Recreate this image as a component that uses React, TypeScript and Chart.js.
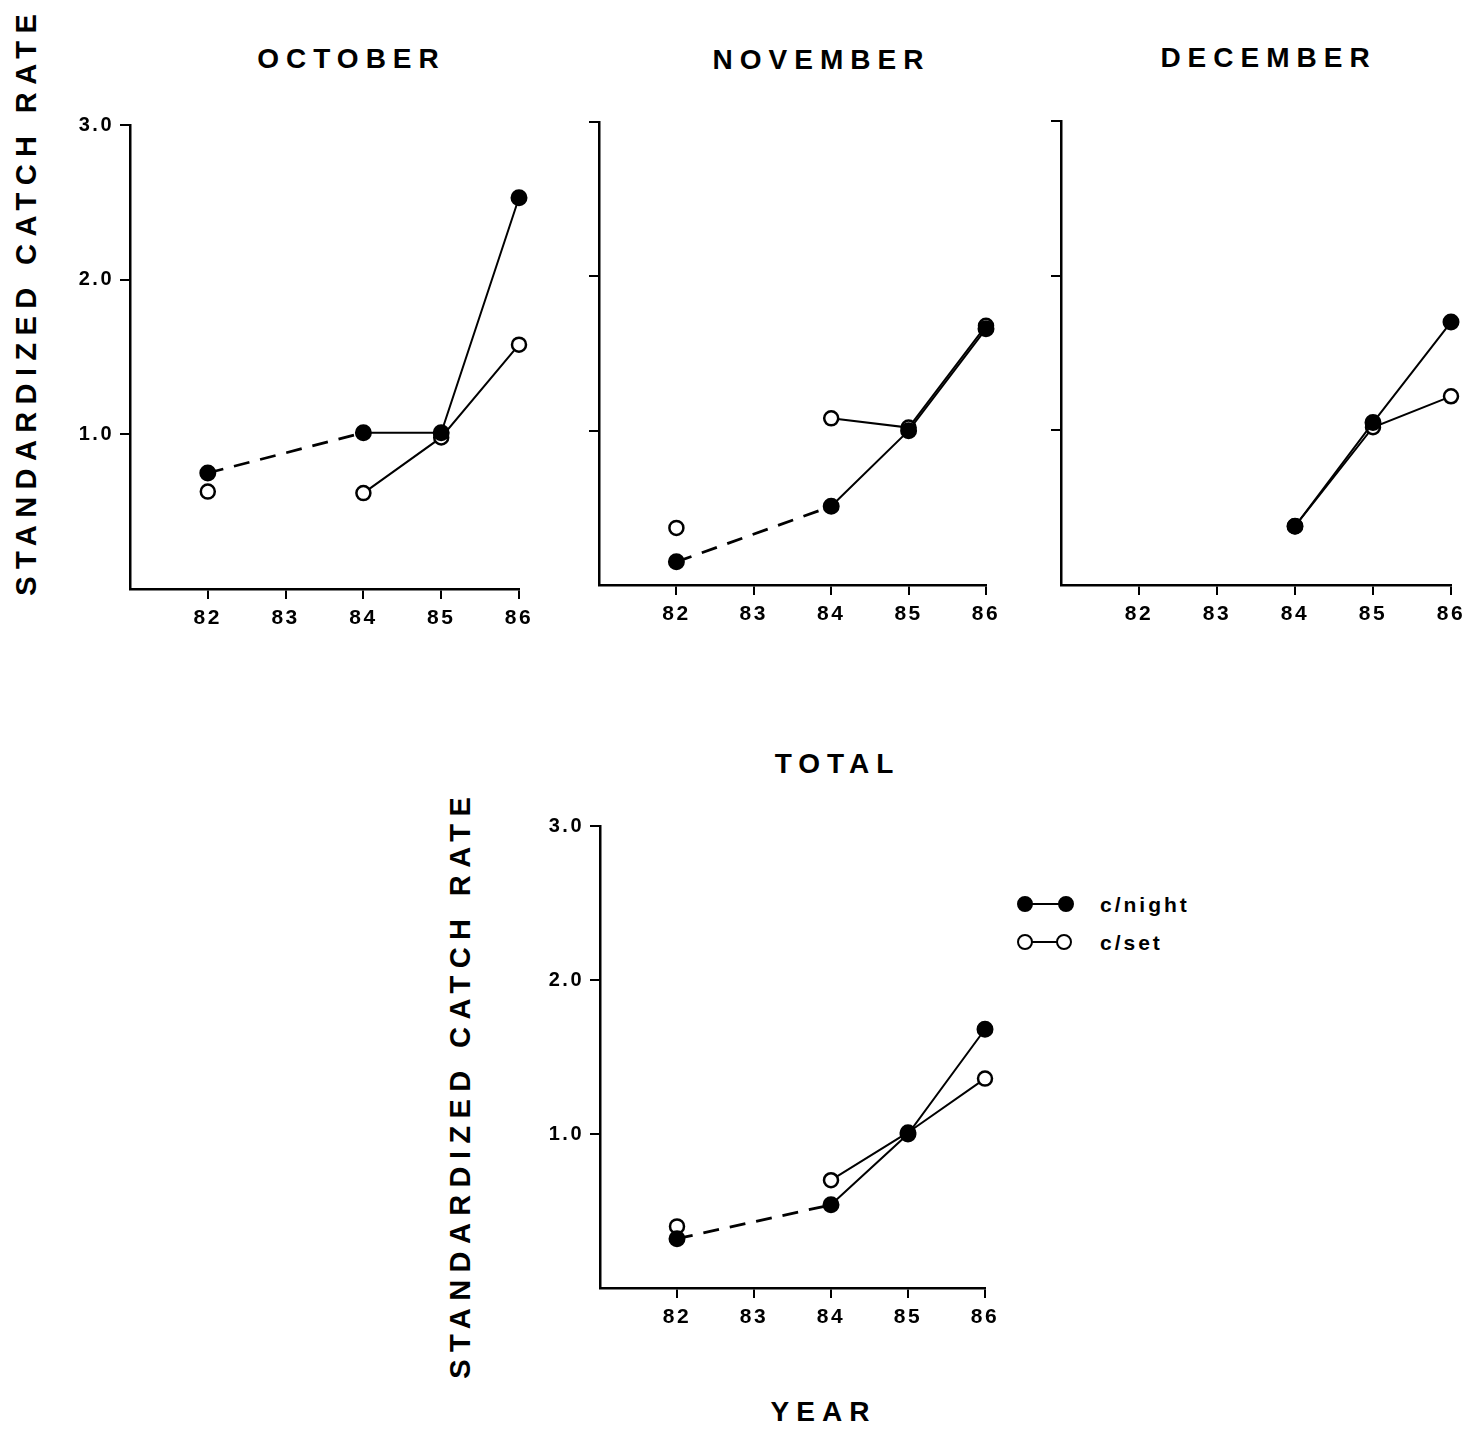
import React, { useEffect, useRef } from 'react';
import { Chart, registerables } from 'chart.js';

Chart.register(...registerables);

const FONT = '"Liberation Sans", Arial, Helvetica, sans-serif';

// ---- data ----
const YEARS = [82, 83, 84, 85, 86];
const X_TICKS = [82, 83, 84, 85, 86];
const Y_TICKS = [1, 2, 3];

const OCT_NIGHT = [0.75, null, 1.01, 1.01, 2.53];
const OCT_SET = [0.63, null, 0.62, 0.98, 1.58];
const NOV_NIGHT = [0.15, null, 0.51, 1.0, 1.66];
const NOV_SET = [0.37, null, 1.08, 1.02, 1.68];
const DEC_NIGHT = [null, null, 0.38, 1.05, 1.7];
const DEC_SET = [null, null, 0.38, 1.02, 1.22];
const TOT_NIGHT = [0.32, null, 0.54, 1.0, 1.68];
const TOT_SET = [0.4, null, 0.7, 1.01, 1.36];

const MONTH_TITLES = ['OCTOBER', 'NOVEMBER', 'DECEMBER'];
const TOTAL_TITLE = 'TOTAL';
const Y_TITLE = 'STANDARDIZED CATCH RATE';
const X_TITLE = 'YEAR';
const LEGEND_LABELS = ['c/night', 'c/set'];

// ---- layout (plot-area boxes in page pixels) ----
const Y_W = 70;
const X_H = 55;
const PAD_T = 20;
const PAD_R = 25;
const PAD_B = 5;

type Box = { L: number; T: number; R: number; B: number };

const spacingPlugin = {
  id: 'letterSpacingPlugin',
  beforeDraw(chart: any) {
    chart.ctx.letterSpacing = '2.5px';
  },
};

function toPoints(vals: (number | null)[]) {
  return YEARS.map((x, i) => ({ x, y: vals[i] }));
}

// a segment touching a missing year is the bridged (dashed) part
function isBridge(ctx: any): boolean {
  return !!(ctx.p0 && ctx.p0.skip) || !!(ctx.p1 && ctx.p1.skip);
}

function Panel({ night, set, showY, box }: { night: (number | null)[]; set: (number | null)[]; showY: boolean; box: Box }) {
  const ref = useRef<HTMLCanvasElement | null>(null);
  const width = Y_W + (box.R - box.L) + PAD_R;
  const height = PAD_T + (box.B - box.T) + X_H + PAD_B;

  useEffect(() => {
    if (!ref.current) return;
    const chart = new Chart(ref.current, {
      type: 'line',
      data: {
        datasets: [
          {
            label: LEGEND_LABELS[0],
            data: toPoints(night) as any,
            borderColor: '#000',
            backgroundColor: '#000',
            borderWidth: 2,
            pointRadius: 7.5,
            pointBorderWidth: 2,
            pointBackgroundColor: '#000',
            pointBorderColor: '#000',
            spanGaps: true,
            clip: false as any,
            segment: {
              borderDash: (ctx: any) => (isBridge(ctx) ? [16, 11] : undefined),
              borderWidth: (ctx: any) => (isBridge(ctx) ? 2.8 : 2),
            },
          },
          {
            label: LEGEND_LABELS[1],
            data: toPoints(set) as any,
            borderColor: '#000',
            backgroundColor: '#fff',
            borderWidth: 2,
            pointRadius: 7,
            pointBorderWidth: 2.5,
            pointBackgroundColor: '#fff',
            pointBorderColor: '#000',
            spanGaps: false,
            clip: false as any,
          },
        ],
      },
      options: {
        responsive: false,
        animation: false,
        devicePixelRatio: 1,
        layout: { padding: { left: 0, top: PAD_T, right: PAD_R, bottom: PAD_B } },
        plugins: { legend: { display: false }, tooltip: { enabled: false }, title: { display: false } },
        scales: {
          x: {
            type: 'linear',
            min: 81,
            max: 86,
            afterBuildTicks: (scale: any) => {
              scale.ticks = X_TICKS.map((v) => ({ value: v }));
            },
            afterFit: (scale: any) => {
              scale.height = X_H;
            },
            ticks: {
              autoSkip: false,
              maxRotation: 0,
              padding: 7,
              color: '#000',
              font: { family: FONT, size: 21, weight: 'bold' },
              callback: (v: any) => String(v),
            },
            grid: { display: true, drawOnChartArea: false, drawTicks: true, tickLength: 10, color: '#000', lineWidth: 2 },
            border: { display: true, color: '#000', width: 2.5 },
          },
          y: {
            type: 'linear',
            min: 0,
            max: 3,
            afterBuildTicks: (scale: any) => {
              scale.ticks = Y_TICKS.map((v) => ({ value: v }));
            },
            afterFit: (scale: any) => {
              scale.width = Y_W;
            },
            ticks: {
              padding: 6,
              color: '#000',
              font: { family: FONT, size: 20, weight: 'bold' },
              callback: (v: any) => (showY ? Number(v).toFixed(1) : ''),
            },
            grid: { display: true, drawOnChartArea: false, drawTicks: true, tickLength: 10, color: '#000', lineWidth: 2 },
            border: { display: true, color: '#000', width: 2.5 },
          },
        },
      } as any,
      plugins: [spacingPlugin],
    });
    return () => chart.destroy();
  }, []);

  return (
    <canvas
      ref={ref}
      width={width}
      height={height}
      style={{ position: 'absolute', left: box.L - Y_W, top: box.T - PAD_T, width, height }}
    />
  );
}

const titleStyle = (cx: number, cy: number, size = 28, spacing = 7): React.CSSProperties => ({
  position: 'absolute',
  left: cx,
  top: cy,
  transform: 'translate(-50%, -50%)',
  fontFamily: FONT,
  fontWeight: 'bold',
  fontSize: size,
  letterSpacing: spacing,
  paddingLeft: spacing,
  lineHeight: 1,
  whiteSpace: 'nowrap',
  color: '#000',
});

const yTitleStyle = (cx: number, cy: number): React.CSSProperties => ({
  position: 'absolute',
  left: cx,
  top: cy,
  transform: 'translate(-50%, -50%) rotate(-90deg)',
  fontFamily: FONT,
  fontWeight: 'bold',
  fontSize: 29,
  letterSpacing: 7.4,
  paddingLeft: 7.4,
  lineHeight: 1,
  whiteSpace: 'nowrap',
  color: '#000',
});

function LegendRow({ y, filled, label }: { y: number; filled: boolean; label: string }) {
  const r = 8;
  const x1 = 1025;
  const x2 = filled ? 1066 : 1064;
  const circ = (cx: number): React.CSSProperties => ({
    position: 'absolute',
    left: cx - r,
    top: y - r,
    width: 2 * r,
    height: 2 * r,
    boxSizing: 'border-box',
    borderRadius: '50%',
    background: filled ? '#000' : '#fff',
    border: '2.5px solid #000',
  });
  return (
    <>
      <div style={{ position: 'absolute', left: x1, top: y - 1, width: x2 - x1, height: 2, background: '#000' }} />
      <div style={circ(x1)} />
      <div style={circ(x2)} />
      <div
        style={{
          position: 'absolute',
          left: 1100,
          top: y,
          transform: 'translateY(-50%)',
          fontFamily: FONT,
          fontWeight: 'bold',
          fontSize: 21,
          letterSpacing: 3,
          lineHeight: 1,
          whiteSpace: 'nowrap',
          color: '#000',
        }}
      >
        {label}
      </div>
    </>
  );
}

export default function App() {
  return (
    <div style={{ position: 'absolute', left: 0, top: 0, width: 1468, height: 1430, background: '#fff', overflow: 'hidden' }}>
      <div style={titleStyle(348, 59)}>{MONTH_TITLES[0]}</div>
      <div style={titleStyle(818, 60)}>{MONTH_TITLES[1]}</div>
      <div style={titleStyle(1265, 58)}>{MONTH_TITLES[2]}</div>
      <div style={yTitleStyle(26, 305)}>{Y_TITLE}</div>

      <Panel night={OCT_NIGHT} set={OCT_SET} showY={true} box={{ L: 130, T: 125, R: 519, B: 589 }} />
      <Panel night={NOV_NIGHT} set={NOV_SET} showY={false} box={{ L: 599, T: 122, R: 986, B: 585 }} />
      <Panel night={DEC_NIGHT} set={DEC_SET} showY={false} box={{ L: 1061, T: 121, R: 1451, B: 585 }} />

      <div style={titleStyle(834, 764)}>{TOTAL_TITLE}</div>
      <div style={yTitleStyle(460, 1088)}>{Y_TITLE}</div>
      <Panel night={TOT_NIGHT} set={TOT_SET} showY={true} box={{ L: 600, T: 826, R: 985, B: 1288 }} />
      <div style={titleStyle(820, 1412)}>{X_TITLE}</div>

      <LegendRow y={904} filled={true} label={LEGEND_LABELS[0]} />
      <LegendRow y={942} filled={false} label={LEGEND_LABELS[1]} />
    </div>
  );
}
